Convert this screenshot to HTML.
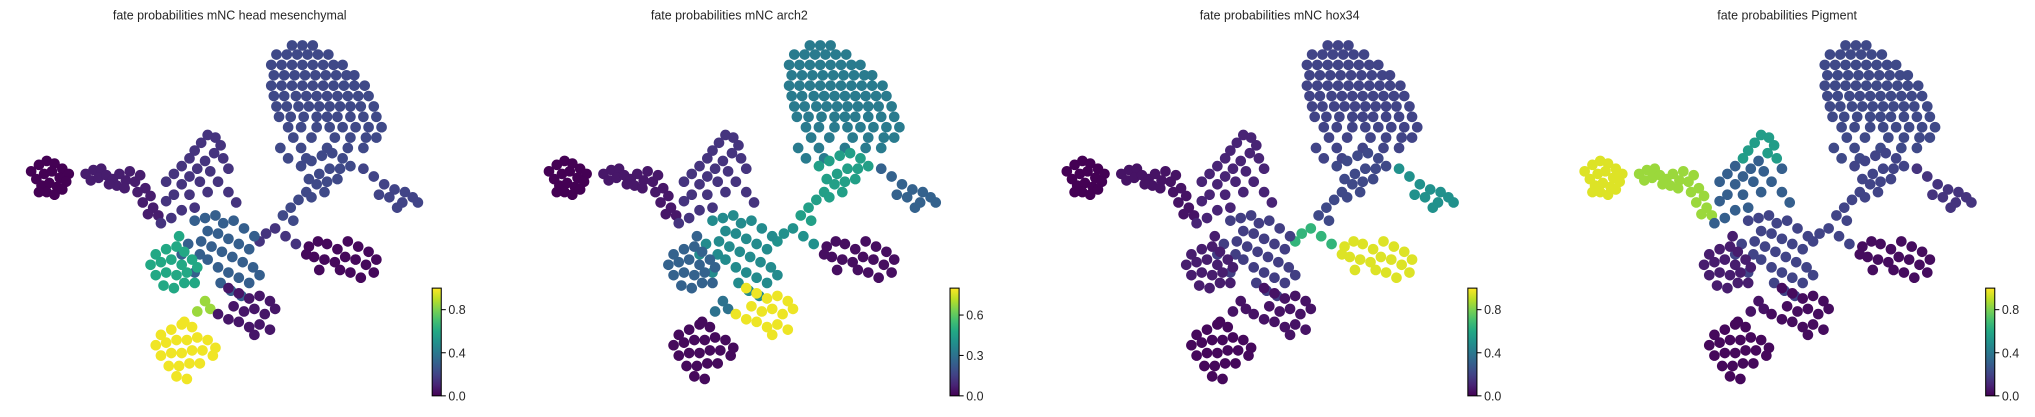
<!DOCTYPE html>
<html><head><meta charset="utf-8"><style>
html,body{margin:0;padding:0;background:#fff;}
svg{display:block;}
text{font-family:"Liberation Sans","DejaVu Sans",sans-serif;fill:#262626;}
</style></head>
<body>
<svg id="chart" width="2035" height="417" viewBox="0 0 1568 321.3" xmlns="http://www.w3.org/2000/svg">
<defs>
<linearGradient id="vir" x1="0" y1="1" x2="0" y2="0">
<stop offset="0" stop-color="#440154"/><stop offset="0.1" stop-color="#482475"/><stop offset="0.2" stop-color="#414487"/><stop offset="0.3" stop-color="#355f8d"/><stop offset="0.4" stop-color="#2a788e"/><stop offset="0.5" stop-color="#21918c"/><stop offset="0.6" stop-color="#22a884"/><stop offset="0.7" stop-color="#44bf70"/><stop offset="0.8" stop-color="#7ad151"/><stop offset="0.9" stop-color="#bddf26"/><stop offset="1" stop-color="#fde725"/>
</linearGradient>
</defs>
</svg>
<script>
const clusterNames = ["far-left","left-arm","mid-arm","top","right-arm-upper","right-arm-tip","right-link","center","right-bottom","green","bridge","below-center","bottom","mid-arm-top"];
const clusterPoints = [
 [[24,132],[30,127],[36,124],[42,126],[48,130],[53,134],[28,138],[34,134],[40,132],[46,137],[51,140],[32,143],[38,141],[44,144],[36,148],[42,150],[30,148],[48,146]],
 [[66,134],[72,131],[78,130],[70,139],[76,137],[82,135],[87,138],[92,134],[97,139],[90,143],[84,142],[100,132],[104,140],[108,135],[112,145],[106,148],[116,151],[110,156],[118,160],[122,166],[114,165],[96,145]],
 [[128,140],[134,134],[140,128],[146,136],[140,142],[134,150],[128,155],[146,150],[154,140],[162,132],[176,130],[168,140],[160,148],[176,148],[182,156],[150,160],[140,162],[132,168],[124,172],[152,130],[158,124]],
 [],
 [[232,128],[240,124],[248,120],[256,118],[264,122],[270,128],[262,130],[254,130],[246,134],[238,138],[244,142],[252,140],[260,138],[236,148],[230,154],[224,160],[218,166],[226,170],[240,152],[250,148]],
 [[280,130],[288,136],[296,142],[304,146],[312,148],[318,152],[322,156],[310,156],[300,152],[306,160],[292,150]],
 [[205,180],[212,176],[200,186],[220,182],[228,188]],
 [[150,170],[158,168],[166,166],[172,172],[180,170],[188,176],[196,182],[160,178],[168,180],[176,184],[184,188],[192,192],[155,186],[163,190],[171,194],[179,198],[187,202],[195,206],[160,200],[168,206],[176,210],[184,214],[192,218],[200,212],[170,218],[178,224],[154,196],[145,188],[140,196],[150,210],[186,228]],
 [[238,190],[245,186],[252,188],[260,192],[268,186],[276,190],[284,194],[290,200],[242,198],[250,200],[258,202],[266,198],[274,200],[282,204],[288,210],[262,208],[270,210],[278,214],[246,208],[236,196]],
 [[120,196],[128,192],[136,190],[142,194],[116,204],[124,202],[132,200],[140,204],[148,200],[120,212],[128,210],[136,212],[144,210],[152,206],[126,220],[134,222],[142,218],[150,218],[138,182]],
 [[158,232],[152,240],[162,238]],
 [[176,222],[184,226],[192,230],[200,228],[208,232],[180,236],[188,240],[196,238],[204,242],[212,238],[184,248],[192,252],[200,250],[208,254],[196,258],[176,246],[168,242]],
 [[124,258],[132,254],[140,250],[148,252],[120,266],[128,264],[136,262],[144,262],[152,260],[160,262],[166,268],[124,274],[132,272],[140,272],[148,270],[156,270],[164,274],[130,282],[138,282],[146,280],[154,280],[136,290],[144,292],[142,248]],
 [[146,122],[150,116],[155,110],[160,104],[166,106],[170,112],[165,118],[172,122]]
];
const topRowsY = [35,42,50,58,66,74,82,90,98,106,114,122];
const topRowsX = [
 [225,233,241],[213,221,229,237,245,253],[209,217,225,233,241,249,257,264],
 [211,219,227,235,243,251,259,267,273],[209,217,225,233,241,249,257,265,273,281],
 [211,219,228,236,244,252,260,268,276,284],[213,221,230,238,246,254,262,270,278,288],
 [215,224,234,244,252,260,270,280,290],[222,232,244,254,264,274,284,294],
 [226,240,258,270,282,290],[216,232,252,268,280],[222,236]
];
const valsHeadMes = [0.0,0.08,0.15,0.22,0.22,0.2,0.15,0.3,0.02,0.6,0.85,0.06,0.98,0.15];
const valsArch2   = [0.0,0.05,0.12,0.33,0.45,0.25,0.4,0.38,0.03,0.25,0.3,0.78,0.02,0.12];
const valsHox34   = [0.0,0.05,0.1,0.2,0.22,0.5,0.65,0.18,0.95,0.08,0.05,0.05,0.02,0.1];
const valsPigment = [0.95,0.85,0.3,0.22,0.2,0.15,0.2,0.2,0.03,0.08,0.05,0.03,0.02,0.55];
const panelTitles = ["fate probabilities mNC head mesenchymal","fate probabilities mNC arch2","fate probabilities mNC hox34","fate probabilities Pigment"];
const panelVmax = [1.0,0.8,1.0,1.0];
const ticks1 = ["0.0","0.4","0.8"], ticks2 = ["0.0","0.3","0.6"];
const tickVals1 = [0,0.4,0.8], tickVals2 = [0,0.3,0.6];

topRowsY.forEach((y,i)=>topRowsX[i].forEach(x=>clusterPoints[3].push([x,y])));

const NS="http://www.w3.org/2000/svg";
const svg=document.getElementById('chart');
const stops=[[0,[68,1,84]],[0.1,[72,36,117]],[0.2,[65,68,135]],[0.3,[53,95,141]],[0.4,[42,120,142]],[0.5,[33,145,140]],[0.6,[34,168,132]],[0.7,[68,191,112]],[0.8,[122,209,81]],[0.9,[189,223,38]],[1,[253,231,37]]];
function viridis(t){t=Math.max(0,Math.min(1,t));for(let i=1;i<stops.length;i++){if(t<=stops[i][0]){const a=stops[i-1],b=stops[i];const f=(t-a[0])/(b[0]-a[0]);const c=a[1].map((v,k)=>Math.round(v+(b[1][k]-v)*f));return `rgb(${c[0]},${c[1]},${c[2]})`;}}return 'rgb(253,231,37)';}
const panelOffsets=[0,399,798,1197];
const titleCenters=[177,562,986,1377];
const allVals=[valsHeadMes,valsArch2,valsHox34,valsPigment];
const cbTop=222,cbBot=305;
function cbY(v,vmax){return cbBot-(v/vmax)*(cbBot-cbTop);}
allVals.forEach((vals,p)=>{
  const g=document.createElementNS(NS,'g');
  
  
  svg.appendChild(g);
  const t=document.createElementNS(NS,'text');
  
  
  t.setAttribute('x',titleCenters[p]);t.setAttribute('y',15);t.setAttribute('text-anchor','middle');t.setAttribute('font-size','9.6');
  t.textContent=panelTitles[p];g.appendChild(t);
  const ox=panelOffsets[p];
  clusterPoints.forEach((pts,c)=>{
    const col=viridis(vals[c]/panelVmax[p]);
    pts.forEach(pt=>{
      const ci=document.createElementNS(NS,'circle');
      
      
      ci.setAttribute('cx',ox+pt[0]);ci.setAttribute('cy',pt[1]);ci.setAttribute('r',4.1);ci.setAttribute('fill',col);
      g.appendChild(ci);
    });
  });
  const cx=333+ox;
  const r=document.createElementNS(NS,'rect');
  
  
  r.setAttribute('x',cx);r.setAttribute('y',cbTop);r.setAttribute('width',7);r.setAttribute('height',cbBot-cbTop);r.setAttribute('fill','url(#vir)');r.setAttribute('stroke','#000');r.setAttribute('stroke-width','0.8');
  g.appendChild(r);
  const tl=p===1?ticks2:ticks1, tv=p===1?tickVals2:tickVals1;
  tl.forEach((lab,i)=>{
    const y=cbY(tv[i],panelVmax[p]);
    const ln=document.createElementNS(NS,'line');
    
    
    ln.setAttribute('x1',cx+7);ln.setAttribute('x2',cx+10.5);ln.setAttribute('y1',y);ln.setAttribute('y2',y);ln.setAttribute('stroke','#000');ln.setAttribute('stroke-width','0.8');
    g.appendChild(ln);
    const tx=document.createElementNS(NS,'text');
    
    
    tx.setAttribute('x',cx+12.5);tx.setAttribute('y',y+3.5);tx.setAttribute('font-size','9.6');
    tx.textContent=lab;g.appendChild(tx);
  });
});
</script>
</body></html>
